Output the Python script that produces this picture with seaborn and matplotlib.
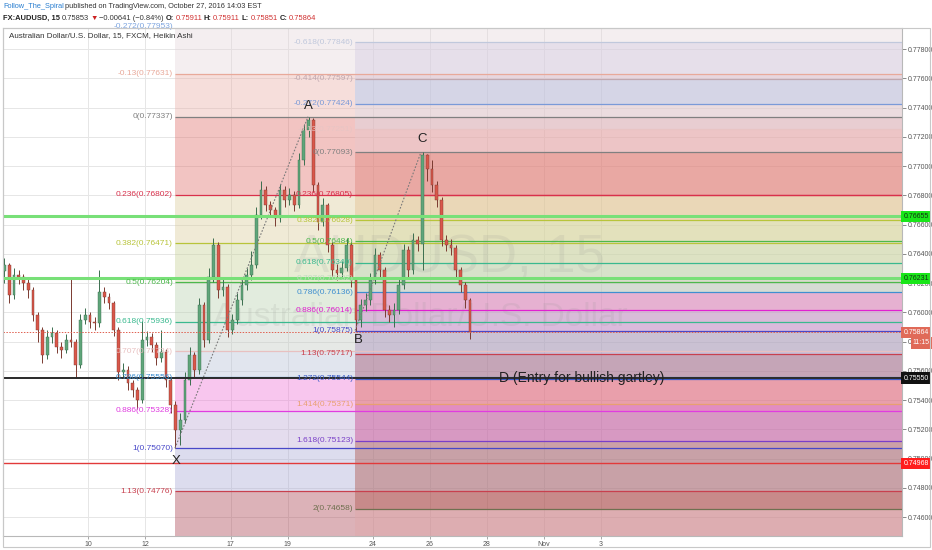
import numpy as np
import pandas as pd
import matplotlib
matplotlib.use("Agg")
import matplotlib.pyplot as plt
import matplotlib.transforms as mtransforms
from matplotlib.patches import Rectangle
import seaborn as sns

sns.set_theme(style="white")
plt.rcParams['font.family'] = ['Liberation Sans', 'DejaVu Sans']

W, H = 932, 550

# ---------------- data ----------------
candle_start_day = -2.93          # trading-day index, 0 = Oct 10
candle_step_days = 1 / 6          # one candle per 4 hours
first_open = 0.76280
close = [0.76323, 0.76118, 0.76255, 0.76240, 0.76200, 0.76152, 0.75981, 0.75879, 0.75708, 0.75831,
         0.75858, 0.75762, 0.75742, 0.75810, 0.75797, 0.75639, 0.75947, 0.75981, 0.75933, 0.75926,
         0.76138, 0.76104, 0.76063, 0.75879, 0.75591, 0.75605, 0.75516, 0.75468, 0.75400, 0.75810,
         0.75831, 0.75776, 0.75687, 0.75728, 0.75537, 0.75366, 0.75195, 0.75263, 0.75537, 0.75708,
         0.75605, 0.76049, 0.75810, 0.76241, 0.76460, 0.76152, 0.76170, 0.75879, 0.75947, 0.76084,
         0.76186, 0.76255, 0.76323, 0.76665, 0.76836, 0.76733, 0.76699, 0.76644, 0.76836, 0.76767,
         0.76802, 0.76733, 0.77041, 0.77246, 0.77314, 0.76870, 0.76617, 0.76733, 0.76460, 0.76289,
         0.76270, 0.76302, 0.76460, 0.76220, 0.75947, 0.76049, 0.76084, 0.76220, 0.76391, 0.76289,
         0.76015, 0.75981, 0.76015, 0.76186, 0.76426, 0.76289, 0.76494, 0.76470, 0.77075, 0.76980,
         0.76870, 0.76767, 0.76494, 0.76460, 0.76439, 0.76289, 0.76186, 0.76084, 0.75864]
high = [0.76370, 0.76340, 0.76300, 0.76290, 0.76260, 0.76230, 0.76170, 0.76000, 0.75900, 0.75880,
        0.75900, 0.75880, 0.75800, 0.75850, 0.76241, 0.75820, 0.75990, 0.76030, 0.76000, 0.75970,
        0.76289, 0.76170, 0.76130, 0.76080, 0.75900, 0.75650, 0.75630, 0.75540, 0.75490, 0.75940,
        0.75870, 0.75860, 0.75800, 0.75879, 0.75750, 0.75560, 0.75390, 0.75310, 0.75590, 0.75760,
        0.75730, 0.76100, 0.76070, 0.76300, 0.76510, 0.76480, 0.76230, 0.76190, 0.75990, 0.76130,
        0.76230, 0.76300, 0.76420, 0.76720, 0.76900, 0.76860, 0.76760, 0.76720, 0.76880, 0.76860,
        0.76850, 0.76830, 0.77090, 0.77290, 0.77337, 0.77330, 0.76890, 0.76780, 0.76750, 0.76480,
        0.76330, 0.76350, 0.76510, 0.76480, 0.76240, 0.76090, 0.76130, 0.76270, 0.76440, 0.76410,
        0.76310, 0.76050, 0.76060, 0.76230, 0.76470, 0.76450, 0.76540, 0.76520, 0.77093, 0.77080,
        0.77040, 0.76900, 0.76790, 0.76530, 0.76500, 0.76460, 0.76310, 0.76210, 0.76100]
low = [0.76200, 0.76060, 0.76090, 0.76190, 0.76150, 0.76100, 0.75940, 0.75800, 0.75650, 0.75680,
       0.75790, 0.75720, 0.75690, 0.75720, 0.75760, 0.75550, 0.75620, 0.75920, 0.75890, 0.75880,
       0.75900, 0.76060, 0.76020, 0.75840, 0.75540, 0.75560, 0.75470, 0.75420, 0.75340, 0.75380,
       0.75770, 0.75730, 0.75640, 0.75660, 0.75490, 0.75310, 0.75070, 0.75090, 0.75240, 0.75500,
       0.75560, 0.75580, 0.75760, 0.75790, 0.76210, 0.76100, 0.76110, 0.75830, 0.75850, 0.75920,
       0.76050, 0.76150, 0.76220, 0.76300, 0.76640, 0.76690, 0.76650, 0.76590, 0.76620, 0.76720,
       0.76730, 0.76690, 0.76710, 0.77010, 0.77200, 0.76820, 0.76560, 0.76590, 0.76410, 0.76240,
       0.76220, 0.76240, 0.76280, 0.76170, 0.75875, 0.75900, 0.76010, 0.76050, 0.76190, 0.76240,
       0.75970, 0.75930, 0.75900, 0.75990, 0.76160, 0.76240, 0.76260, 0.76420, 0.76289, 0.76900,
       0.76820, 0.76720, 0.76450, 0.76420, 0.76390, 0.76240, 0.76140, 0.76030, 0.75820]

tick_days = [0, 2, 5, 7, 10, 12, 14, 16, 18]
tick_labels = ["10", "12", "17", "19", "24", "26", "28", "Nov", "3"]
price_ticks = [0.746, 0.748, 0.750, 0.752, 0.754, 0.756, 0.758, 0.760, 0.762,
               0.764, 0.766, 0.768, 0.770, 0.772, 0.774, 0.776, 0.778]

pattern_names = ["X", "A", "B", "C"]
pattern_days = [3.05, 7.72, 9.37, 11.68]
pattern_prices = [0.75070, 0.77337, 0.75875, 0.77093]

fib1_levels = ["-0.272", "-0.13", "0", "0.236", "0.382", "0.5", "0.618", "0.707",
               "0.786", "0.886", "1", "1.13", "1.272"]
fib1_prices = [0.77953, 0.77631, 0.77337, 0.76802, 0.76471, 0.76204, 0.75936, 0.75734,
               0.75556, 0.75328, 0.75070, 0.74776, 0.74454]
fib2_levels = ["-0.618", "-0.414", "-0.272", "-0.13", "0", "0.236", "0.382", "0.5", "0.618",
               "0.707", "0.786", "0.886", "1", "1.13", "1.272", "1.414", "1.618", "2"]
fib2_prices = [0.77846, 0.77597, 0.77424, 0.77251, 0.77093, 0.76805, 0.76628, 0.76484, 0.76340,
               0.76232, 0.76136, 0.76014, 0.75875, 0.75717, 0.75544, 0.75371, 0.75123, 0.74658]

green_lines = [0.76655, 0.76231]
black_line = 0.75550
red_line = 0.74968
last_price = 0.75864
countdown = "11:15"
d_text = "D (Entry for bullish gartley)"
d_day, d_price = 17.33, 0.75550

# ---------------- styles ----------------
fib1_line_colors = ["#7fa6e0", "#e8a99a", "#808080", "#d9304b", "#b8c43a", "#4cb84c", "#3ab98f",
                    "#e8c0c0", "#3f8fd0", "#e03ce0", "#4848c8", "#c8404e", "#3a5ac8"]
fib1_zone_colors = ["#e4d5da", "#e9ada5", "#df6c67", "#dacb99", "#c6d094", "#b7d0ad",
                    "#c1c8c1", "#b4bed5", "#ee71d5", "#bca8d5", "#a8a8d5", "#a8404f"]
fib2_line_colors = ["#c0c8dc", "#c0a8b0", "#7a9ad8", "#e8c4c4", "#808080", "#d9304b", "#b8c43a",
                    "#4cb84c", "#3ab98f", "#c0dcc0", "#3f8fd0", "#e020d0", "#4848c8", "#c8404e",
                    "#3a5ac8", "#e8a070", "#7a40c8", "#707050"]
fib2_zone_colors = ["#d5cde3", "#aecbf5", "#dedae4", "#e9c8cb", "#e0887f", "#e3c293", "#d5d89e",
                    "#d0d8b0", "#c4d6c0", "#c7c8c8", "#eb6bc3", "#cc81d1", "#a892be", "#a55976",
                    "#d8705a", "#c8488e", "#b05b52", "#e0a8aa"]

fig = plt.figure(figsize=(W / 100, H / 100), dpi=100)
fig.patch.set_facecolor("white")
ax = fig.add_axes([3 / W, 14 / H, 899 / W, 508 / H])
ax.set_facecolor("white")

xmin, xmax = -2.982, 28.56
ymin, ymax = 0.744701, 0.779436
ax.set_xlim(xmin, xmax)
ax.set_ylim(ymin, ymax)

# grid
for p in price_ticks:
    ax.axhline(p, color="#e6e6e6", lw=0.7, zorder=0)
for d in tick_days:
    ax.axvline(d, color="#e6e6e6", lw=0.7, zorder=0)

# fib 1 (X -> A), extends right
x0 = pattern_days[0]
for k in range(len(fib1_prices) - 1):
    ax.fill_between([x0, xmax], fib1_prices[k + 1], fib1_prices[k],
                    color=fib1_zone_colors[k], alpha=0.4, lw=0, zorder=1)
# fib 2 (C -> B), starts at B
x1 = pattern_days[2]
for k in range(len(fib2_prices) - 1):
    ax.fill_between([x1, xmax], fib2_prices[k + 1], fib2_prices[k],
                    color=fib2_zone_colors[k], alpha=0.45, lw=0, zorder=1.5)
ax.fill_between([x1, xmax], ymin, fib2_prices[-1], color=fib2_zone_colors[-1],
                alpha=0.45, lw=0, zorder=1.5)

for p, c in zip(fib1_prices, fib1_line_colors):
    ax.hlines(p, x0, xmax, color=c, lw=0.9, zorder=2.5)
for p, c in zip(fib2_prices, fib2_line_colors):
    ax.hlines(p, x1, xmax, color=c, lw=0.9, zorder=2.6)

lab_tr = mtransforms.offset_copy(ax.transData, fig=fig, x=-2, y=0, units="dots")
for lv, p, c in zip(fib1_levels, fib1_prices, fib1_line_colors):
    if p < ymin:
        continue
    ax.text(x0, p, f"{lv}({p:.5f})", transform=lab_tr, ha="right", va="center",
            fontsize=6, color=c, zorder=7, clip_on=(p < ymax))
for lv, p, c in zip(fib2_levels, fib2_prices, fib2_line_colors):
    ax.text(x1, p, f"{lv}({p:.5f})", transform=lab_tr, ha="right", va="center",
            fontsize=6, color=c, zorder=7)

# watermark
ax.text(12.7, 0.76371, "AUDUSD, 15", fontsize=38, color="#909090", alpha=0.14,
        ha="center", va="center", zorder=2)
ax.text(11.65, 0.75961, "Australian Dollar/U.S. Dollar", fontsize=24, color="#909090",
        alpha=0.14, ha="center", va="center", zorder=2)

# candles
n = len(close)
days = [candle_start_day + i * candle_step_days for i in range(n)]
opens = [first_open] + close[:-1]
up_body, dn_body = "#5fa57a", "#d9574a"
up_wick, dn_wick = "#3a6e4e", "#7a3a30"
for d, o, h, l, c in zip(days, opens, high, low, close):
    up = c >= o
    ax.vlines(d, l, h, color=up_wick if up else dn_wick, lw=0.7, zorder=4)
    ax.bar(d, c - o if abs(c - o) > 1e-5 else 0.00002, bottom=o, width=0.095,
           color=up_body if up else dn_body, edgecolor=up_wick if up else dn_wick,
           linewidth=0.3, zorder=4.2)

# pattern dotted legs (X->A, B->C)
legs = pd.DataFrame({"day": [pattern_days[0], pattern_days[1], pattern_days[2], pattern_days[3]],
                     "price": [pattern_prices[0], pattern_prices[1], pattern_prices[2], pattern_prices[3]],
                     "leg": ["XA", "XA", "BC", "BC"]})
sns.lineplot(data=legs, x="day", y="price", units="leg", estimator=None, ax=ax,
             color="#7a7a7a", lw=0.8, linestyle=(0, (1.5, 1.5)), zorder=4.5, legend=False)

# full-width horizontal lines
for p in green_lines:
    ax.axhline(p, color="#78e078", lw=2.2, zorder=5)
ax.axhline(black_line, color="#2a2a2a", lw=1.4, zorder=5)
ax.axhline(red_line, color="#e23a3a", lw=1.0, zorder=5)
ax.axhline(last_price, color="#e06050", lw=0.7, linestyle=(0, (1.5, 1.5)), zorder=4.6)

# pattern letters
offsets = {"X": (1, -13), "A": (0, 11), "B": (3, -9), "C": (1, 13)}
for nm, d, p in zip(pattern_names, pattern_days, pattern_prices):
    tr = mtransforms.offset_copy(ax.transData, fig=fig, x=offsets[nm][0], y=offsets[nm][1], units="dots")
    ax.text(d, p, nm, transform=tr, ha="center", va="center", fontsize=9.5, color="#222222", zorder=8)

ax.text(d_day, d_price, d_text, ha="center", va="center", fontsize=10, color="#222222", zorder=8)

# axes styling
ax.set_xlabel("")
ax.set_ylabel("")
ax.set_xticks(tick_days)
ax.set_xticklabels(tick_labels)
ax.yaxis.tick_right()
ax.set_yticks(price_ticks)
ax.set_yticklabels([f"{p:.5f}" for p in price_ticks])
ax.tick_params(axis="y", which="both", right=True, length=3, width=0.6, colors="#777777",
               labelsize=5, pad=1.5, labelcolor="#555555")
ax.tick_params(axis="x", which="both", bottom=True, length=2, width=0.6, colors="#999999",
               labelsize=5, pad=1.5, labelcolor="#555555")
for s in ax.spines.values():
    s.set_color("#b8b8b8")
    s.set_linewidth(0.8)

# right-axis price badges
ytr = ax.get_yaxis_transform()
def badge(price, text, fc, tc, x=1.0015):
    ax.text(x, price, text, transform=ytr, ha="left", va="center", fontsize=5, color=tc,
            zorder=20, clip_on=False,
            bbox=dict(boxstyle="square,pad=0.3", fc=fc, ec=fc, lw=0))
for p in green_lines:
    badge(p, f"{p:.5f}", "#19e619", "#113311")
badge(last_price, f"{last_price:.5f}", "#e06a58", "white")
badge(0.75790, countdown, "#e06a58", "white", x=1.0122)
badge(black_line, f"{black_line:.5f}", "#111111", "white")
badge(red_line, f"{red_line:.5f}", "#ff1c1c", "white")

# outer frame
fig.patches.append(Rectangle((3 / W, 3 / H), 927 / W, 519 / H, transform=fig.transFigure,
                             fill=False, ec="#c8c8c8", lw=0.8))

# header
renderer = fig.canvas.get_renderer()
def seq(x_px, y_px, parts, size, gap):
    x = x_px
    for s, col, wt in parts:
        t = fig.text(x / W, 1 - y_px / H, s, color=col, fontsize=size, fontweight=wt,
                     ha="left", va="center")
        x += t.get_window_extent(renderer=renderer).width + gap

seq(3, 7, [("Follow_The_Spiral", "#2a7fd0", "normal"),
           ("published on TradingView.com, October 27, 2016 14:03 EST", "#333333", "normal")], 5.3, 1.6)
seq(3, 18, [("FX:AUDUSD, 15", "#222222", "bold"), ("0.75853", "#333333", "normal"),
            ("▼", "#cc2222", "normal"), ("−0.00641 (−0.84%)", "#333333", "normal"),
            ("O:", "#222222", "bold"), ("0.75911", "#d03030", "normal"),
            ("H:", "#222222", "bold"), ("0.75911", "#d03030", "normal"),
            ("L:", "#222222", "bold"), ("0.75851", "#d03030", "normal"),
            ("C:", "#222222", "bold"), ("0.75864", "#d03030", "normal")], 5.4, 1.6)
fig.text(9 / W, 1 - 36 / H, "Australian Dollar/U.S. Dollar, 15, FXCM, Heikin Ashi",
         fontsize=5.8, color="#333333", ha="left", va="center")

fig.savefig("out.png", dpi=100, facecolor="white")
